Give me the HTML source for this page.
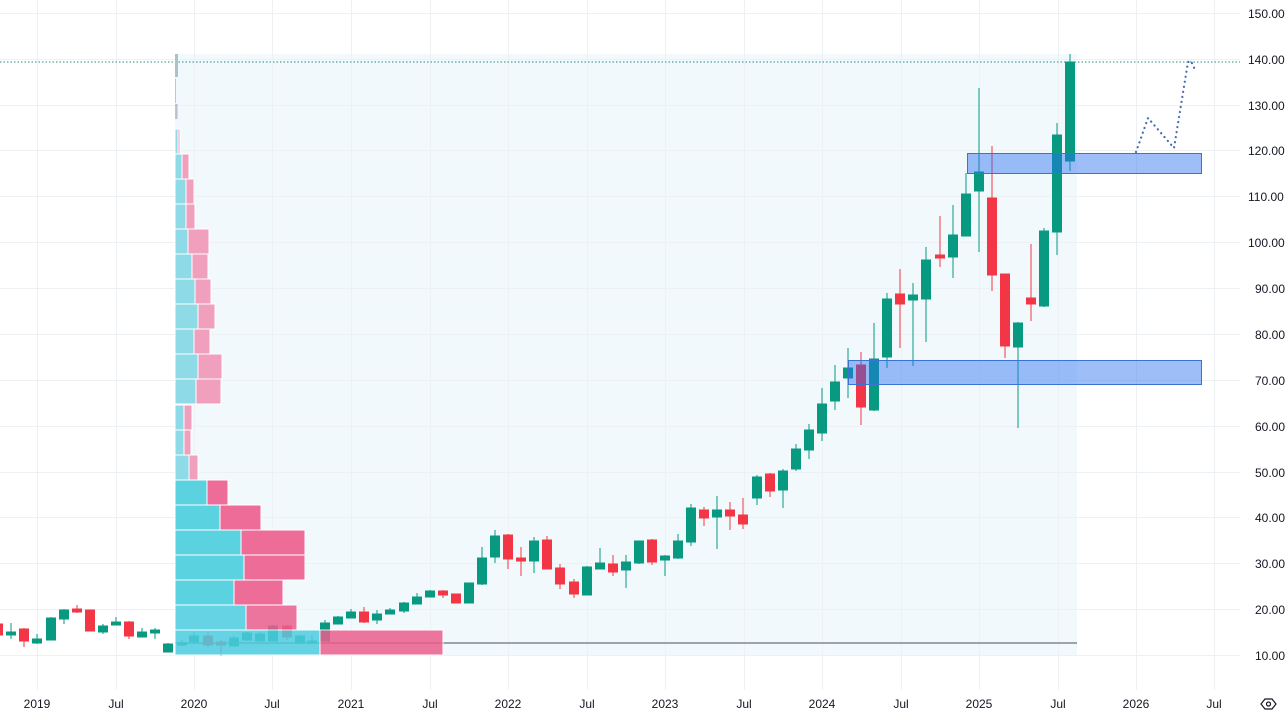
<!DOCTYPE html>
<html><head><meta charset="utf-8"><style>
html,body{margin:0;padding:0;background:#fff;}
svg{display:block;font-family:"Liberation Sans",sans-serif;}
</style></head><body>
<svg width="1288" height="718" viewBox="0 0 1288 718" xmlns="http://www.w3.org/2000/svg">
<rect width="1288" height="718" fill="#fff"/>
<rect x="175" y="54" width="902" height="601" fill="#f1f9fd"/>
<g stroke="#eef1f4" stroke-width="1">
<line x1="0" x2="1240" y1="13.5" y2="13.5"/><line x1="0" x2="1240" y1="59.5" y2="59.5"/><line x1="0" x2="1240" y1="105.5" y2="105.5"/><line x1="0" x2="1240" y1="150.5" y2="150.5"/><line x1="0" x2="1240" y1="196.5" y2="196.5"/><line x1="0" x2="1240" y1="242.5" y2="242.5"/><line x1="0" x2="1240" y1="288.5" y2="288.5"/><line x1="0" x2="1240" y1="334.5" y2="334.5"/><line x1="0" x2="1240" y1="380.5" y2="380.5"/><line x1="0" x2="1240" y1="426.5" y2="426.5"/><line x1="0" x2="1240" y1="472.5" y2="472.5"/><line x1="0" x2="1240" y1="517.5" y2="517.5"/><line x1="0" x2="1240" y1="563.5" y2="563.5"/><line x1="0" x2="1240" y1="609.5" y2="609.5"/><line x1="0" x2="1240" y1="655.5" y2="655.5"/>
<line y1="0" y2="690" x1="37.5" x2="37.5"/><line y1="0" y2="690" x1="116.5" x2="116.5"/><line y1="0" y2="690" x1="194.5" x2="194.5"/><line y1="0" y2="690" x1="272.5" x2="272.5"/><line y1="0" y2="690" x1="351.5" x2="351.5"/><line y1="0" y2="690" x1="430.5" x2="430.5"/><line y1="0" y2="690" x1="508.5" x2="508.5"/><line y1="0" y2="690" x1="587.5" x2="587.5"/><line y1="0" y2="690" x1="665.5" x2="665.5"/><line y1="0" y2="690" x1="744.5" x2="744.5"/><line y1="0" y2="690" x1="822.5" x2="822.5"/><line y1="0" y2="690" x1="901.5" x2="901.5"/><line y1="0" y2="690" x1="979.5" x2="979.5"/><line y1="0" y2="690" x1="1058.5" x2="1058.5"/><line y1="0" y2="690" x1="1136.5" x2="1136.5"/><line y1="0" y2="690" x1="1214.5" x2="1214.5"/>
</g>
<line x1="0" x2="1240" y1="62" y2="62" stroke="#2a8a86" stroke-width="1" stroke-dasharray="1.5,2"/>
<line x1="175" x2="1077" y1="643" y2="643" stroke="#9aa4aa" stroke-width="2"/>
<g id="c">
<g fill="#f23645" stroke="#f23645"><line x1="-2" x2="-2" y1="622" y2="637"/><rect x="-6.5" y="624" width="9" height="11"/></g>
<g fill="#089981" stroke="#089981"><line x1="11" x2="11" y1="623" y2="639"/><rect x="6.5" y="632" width="9" height="3"/></g>
<g fill="#f23645" stroke="#f23645"><line x1="24" x2="24" y1="628" y2="647"/><rect x="19.5" y="629" width="9" height="12"/></g>
<g fill="#089981" stroke="#089981"><line x1="37" x2="37" y1="634" y2="644"/><rect x="32.5" y="639" width="9" height="4"/></g>
<g fill="#089981" stroke="#089981"><line x1="51" x2="51" y1="617" y2="640"/><rect x="46.5" y="618" width="9" height="22"/></g>
<g fill="#089981" stroke="#089981"><line x1="64" x2="64" y1="609" y2="624"/><rect x="59.5" y="610" width="9" height="9"/></g>
<g fill="#f23645" stroke="#f23645"><line x1="77" x2="77" y1="605" y2="613"/><rect x="72.5" y="609" width="9" height="3"/></g>
<g fill="#f23645" stroke="#f23645"><line x1="90" x2="90" y1="610" y2="631"/><rect x="85.5" y="610" width="9" height="21"/></g>
<g fill="#089981" stroke="#089981"><line x1="103" x2="103" y1="624" y2="634"/><rect x="98.5" y="626" width="9" height="6"/></g>
<g fill="#089981" stroke="#089981"><line x1="116" x2="116" y1="617" y2="625"/><rect x="111.5" y="622" width="9" height="3"/></g>
<g fill="#f23645" stroke="#f23645"><line x1="129" x2="129" y1="621" y2="639"/><rect x="124.5" y="622" width="9" height="14"/></g>
<g fill="#089981" stroke="#089981"><line x1="142" x2="142" y1="628" y2="637"/><rect x="137.5" y="632" width="9" height="5"/></g>
<g fill="#089981" stroke="#089981"><line x1="155" x2="155" y1="628" y2="639"/><rect x="150.5" y="630" width="9" height="3"/></g>
<g fill="#089981" stroke="#089981"><line x1="168" x2="168" y1="643" y2="652"/><rect x="163.5" y="644" width="9" height="8"/></g>
<g fill="#089981" stroke="#089981"><line x1="182" x2="182" y1="640" y2="646"/><rect x="177.5" y="643" width="9" height="2"/></g>
<g fill="#089981" stroke="#089981"><line x1="194" x2="194" y1="632" y2="644"/><rect x="189.5" y="636" width="9" height="6"/></g>
<g fill="#f23645" stroke="#f23645"><line x1="208" x2="208" y1="632" y2="647"/><rect x="203.5" y="636" width="9" height="9"/></g>
<g fill="#f23645" stroke="#f23645"><line x1="221" x2="221" y1="640" y2="656"/><rect x="216.5" y="642" width="9" height="3"/></g>
<g fill="#089981" stroke="#089981"><line x1="234" x2="234" y1="636" y2="646"/><rect x="229.5" y="638" width="9" height="8"/></g>
<g fill="#089981" stroke="#089981"><line x1="247" x2="247" y1="632" y2="641"/><rect x="242.5" y="633" width="9" height="7"/></g>
<g fill="#089981" stroke="#089981"><line x1="260" x2="260" y1="632" y2="641"/><rect x="255.5" y="634" width="9" height="7"/></g>
<g fill="#089981" stroke="#089981"><line x1="273" x2="273" y1="625" y2="641"/><rect x="268.5" y="626" width="9" height="15"/></g>
<g fill="#f23645" stroke="#f23645"><line x1="287" x2="287" y1="625" y2="640"/><rect x="282.5" y="626" width="9" height="11"/></g>
<g fill="#089981" stroke="#089981"><line x1="300" x2="300" y1="635" y2="644"/><rect x="295.5" y="636" width="9" height="7"/></g>
<g fill="#089981" stroke="#089981"><line x1="312" x2="312" y1="635" y2="643"/><rect x="307.5" y="641" width="9" height="2"/></g>
<g fill="#089981" stroke="#089981"><line x1="325" x2="325" y1="620" y2="641"/><rect x="320.5" y="623" width="9" height="18"/></g>
<g fill="#089981" stroke="#089981"><line x1="338" x2="338" y1="616" y2="624"/><rect x="333.5" y="617" width="9" height="7"/></g>
<g fill="#089981" stroke="#089981"><line x1="351" x2="351" y1="609" y2="618"/><rect x="346.5" y="612" width="9" height="6"/></g>
<g fill="#f23645" stroke="#f23645"><line x1="364" x2="364" y1="607" y2="623"/><rect x="359.5" y="612" width="9" height="10"/></g>
<g fill="#089981" stroke="#089981"><line x1="377" x2="377" y1="610" y2="624"/><rect x="372.5" y="614" width="9" height="6"/></g>
<g fill="#089981" stroke="#089981"><line x1="390" x2="390" y1="608" y2="614"/><rect x="385.5" y="610" width="9" height="4"/></g>
<g fill="#089981" stroke="#089981"><line x1="404" x2="404" y1="602" y2="613"/><rect x="399.5" y="603" width="9" height="8"/></g>
<g fill="#089981" stroke="#089981"><line x1="417" x2="417" y1="593" y2="604"/><rect x="412.5" y="597" width="9" height="7"/></g>
<g fill="#089981" stroke="#089981"><line x1="430" x2="430" y1="590" y2="597"/><rect x="425.5" y="591" width="9" height="6"/></g>
<g fill="#f23645" stroke="#f23645"><line x1="443" x2="443" y1="590" y2="598"/><rect x="438.5" y="591" width="9" height="4"/></g>
<g fill="#f23645" stroke="#f23645"><line x1="456" x2="456" y1="594" y2="603"/><rect x="451.5" y="594" width="9" height="9"/></g>
<g fill="#089981" stroke="#089981"><line x1="469" x2="469" y1="583" y2="603"/><rect x="464.5" y="583" width="9" height="20"/></g>
<g fill="#089981" stroke="#089981"><line x1="482" x2="482" y1="547" y2="585"/><rect x="477.5" y="558" width="9" height="26"/></g>
<g fill="#089981" stroke="#089981"><line x1="495" x2="495" y1="530" y2="563"/><rect x="490.5" y="536" width="9" height="21"/></g>
<g fill="#f23645" stroke="#f23645"><line x1="508" x2="508" y1="534" y2="569"/><rect x="503.5" y="535" width="9" height="24"/></g>
<g fill="#f23645" stroke="#f23645"><line x1="521" x2="521" y1="547" y2="576"/><rect x="516.5" y="558" width="9" height="3"/></g>
<g fill="#089981" stroke="#089981"><line x1="534" x2="534" y1="537" y2="573"/><rect x="529.5" y="541" width="9" height="20"/></g>
<g fill="#f23645" stroke="#f23645"><line x1="547" x2="547" y1="536" y2="569"/><rect x="542.5" y="540" width="9" height="29"/></g>
<g fill="#f23645" stroke="#f23645"><line x1="560" x2="560" y1="564" y2="589"/><rect x="555.5" y="568" width="9" height="16"/></g>
<g fill="#f23645" stroke="#f23645"><line x1="574" x2="574" y1="579" y2="598"/><rect x="569.5" y="582" width="9" height="12"/></g>
<g fill="#089981" stroke="#089981"><line x1="587" x2="587" y1="566" y2="595"/><rect x="582.5" y="567" width="9" height="28"/></g>
<g fill="#089981" stroke="#089981"><line x1="600" x2="600" y1="548" y2="569"/><rect x="595.5" y="563" width="9" height="6"/></g>
<g fill="#f23645" stroke="#f23645"><line x1="613" x2="613" y1="555" y2="576"/><rect x="608.5" y="564" width="9" height="8"/></g>
<g fill="#089981" stroke="#089981"><line x1="626" x2="626" y1="555" y2="588"/><rect x="621.5" y="562" width="9" height="8"/></g>
<g fill="#089981" stroke="#089981"><line x1="639" x2="639" y1="541" y2="564"/><rect x="634.5" y="541" width="9" height="22"/></g>
<g fill="#f23645" stroke="#f23645"><line x1="652" x2="652" y1="539" y2="565"/><rect x="647.5" y="540" width="9" height="22"/></g>
<g fill="#089981" stroke="#089981"><line x1="665" x2="665" y1="555" y2="576"/><rect x="660.5" y="556" width="9" height="4"/></g>
<g fill="#089981" stroke="#089981"><line x1="678" x2="678" y1="534" y2="559"/><rect x="673.5" y="541" width="9" height="17"/></g>
<g fill="#089981" stroke="#089981"><line x1="691" x2="691" y1="504" y2="546"/><rect x="686.5" y="508" width="9" height="34"/></g>
<g fill="#f23645" stroke="#f23645"><line x1="704" x2="704" y1="507" y2="526"/><rect x="699.5" y="510" width="9" height="8"/></g>
<g fill="#089981" stroke="#089981"><line x1="717" x2="717" y1="496" y2="549"/><rect x="712.5" y="510" width="9" height="7"/></g>
<g fill="#f23645" stroke="#f23645"><line x1="730" x2="730" y1="502" y2="530"/><rect x="725.5" y="510" width="9" height="6"/></g>
<g fill="#f23645" stroke="#f23645"><line x1="743" x2="743" y1="498" y2="529"/><rect x="738.5" y="515" width="9" height="9"/></g>
<g fill="#089981" stroke="#089981"><line x1="757" x2="757" y1="475" y2="505"/><rect x="752.5" y="477" width="9" height="21"/></g>
<g fill="#f23645" stroke="#f23645"><line x1="770" x2="770" y1="473" y2="497"/><rect x="765.5" y="474" width="9" height="17"/></g>
<g fill="#089981" stroke="#089981"><line x1="783" x2="783" y1="469" y2="508"/><rect x="778.5" y="471" width="9" height="19"/></g>
<g fill="#089981" stroke="#089981"><line x1="796" x2="796" y1="444" y2="471"/><rect x="791.5" y="449" width="9" height="20"/></g>
<g fill="#089981" stroke="#089981"><line x1="809" x2="809" y1="424" y2="459"/><rect x="804.5" y="430" width="9" height="20"/></g>
<g fill="#089981" stroke="#089981"><line x1="822" x2="822" y1="388" y2="441"/><rect x="817.5" y="404" width="9" height="29"/></g>
<g fill="#089981" stroke="#089981"><line x1="835" x2="835" y1="365" y2="410"/><rect x="830.5" y="382" width="9" height="19"/></g>
<g fill="#089981" stroke="#089981"><line x1="848" x2="848" y1="348" y2="398"/><rect x="843.5" y="368" width="9" height="10"/></g>
<g fill="#f23645" stroke="#f23645"><line x1="861" x2="861" y1="352" y2="425"/><rect x="856.5" y="365" width="9" height="42"/></g>
<g fill="#089981" stroke="#089981"><line x1="874" x2="874" y1="323" y2="411"/><rect x="869.5" y="359" width="9" height="51"/></g>
<g fill="#089981" stroke="#089981"><line x1="887" x2="887" y1="293" y2="368"/><rect x="882.5" y="299" width="9" height="58"/></g>
<g fill="#f23645" stroke="#f23645"><line x1="900" x2="900" y1="269" y2="348"/><rect x="895.5" y="294" width="9" height="10"/></g>
<g fill="#089981" stroke="#089981"><line x1="913" x2="913" y1="283" y2="366"/><rect x="908.5" y="295" width="9" height="5"/></g>
<g fill="#089981" stroke="#089981"><line x1="926" x2="926" y1="247" y2="342"/><rect x="921.5" y="260" width="9" height="39"/></g>
<g fill="#f23645" stroke="#f23645"><line x1="940" x2="940" y1="216" y2="267"/><rect x="935.5" y="255" width="9" height="3"/></g>
<g fill="#089981" stroke="#089981"><line x1="953" x2="953" y1="205" y2="278"/><rect x="948.5" y="235" width="9" height="22"/></g>
<g fill="#089981" stroke="#089981"><line x1="966" x2="966" y1="173" y2="236"/><rect x="961.5" y="194" width="9" height="42"/></g>
<g fill="#089981" stroke="#089981"><line x1="979" x2="979" y1="88" y2="252"/><rect x="974.5" y="172" width="9" height="19"/></g>
<g fill="#f23645" stroke="#f23645"><line x1="992" x2="992" y1="146" y2="291"/><rect x="987.5" y="198" width="9" height="77"/></g>
<g fill="#f23645" stroke="#f23645"><line x1="1005" x2="1005" y1="274" y2="358"/><rect x="1000.5" y="274" width="9" height="72"/></g>
<g fill="#089981" stroke="#089981"><line x1="1018" x2="1018" y1="322" y2="428"/><rect x="1013.5" y="323" width="9" height="24"/></g>
<g fill="#f23645" stroke="#f23645"><line x1="1031" x2="1031" y1="244" y2="321"/><rect x="1026.5" y="298" width="9" height="6"/></g>
<g fill="#089981" stroke="#089981"><line x1="1044" x2="1044" y1="228" y2="307"/><rect x="1039.5" y="231" width="9" height="75"/></g>
<g fill="#089981" stroke="#089981"><line x1="1057" x2="1057" y1="123" y2="255"/><rect x="1052.5" y="135" width="9" height="97"/></g>
<g fill="#089981" stroke="#089981"><line x1="1070" x2="1070" y1="54" y2="171"/><rect x="1065.5" y="62" width="9" height="99"/></g>
</g>
<g stroke="#fff" stroke-width="1">
<g opacity="0.85">
<rect x="175" y="630" width="145" height="25" fill="#4dcde0"/><rect x="320" y="630" width="123" height="25" fill="#ec5e8e"/>
<rect x="175" y="605" width="71" height="25" fill="#4dcde0"/><rect x="246" y="605" width="51" height="25" fill="#ec5e8e"/>
</g>
<rect x="175" y="580" width="59" height="25" fill="#5bd2e0"/><rect x="234" y="580" width="49" height="25" fill="#ee6d98"/>
<rect x="175" y="555" width="69" height="25" fill="#5bd2e0"/><rect x="244" y="555" width="61" height="25" fill="#ee6d98"/>
<rect x="175" y="530" width="66" height="25" fill="#5bd2e0"/><rect x="241" y="530" width="64" height="25" fill="#ee6d98"/>
<rect x="175" y="505" width="45" height="25" fill="#5bd2e0"/><rect x="220" y="505" width="41" height="25" fill="#ee6d98"/>
<rect x="175" y="480" width="32" height="25" fill="#5bd2e0"/><rect x="207" y="480" width="21" height="25" fill="#ee6d98"/>
<rect x="175" y="455" width="14" height="25" fill="#8edbe7"/><rect x="189" y="455" width="9" height="25" fill="#f09fbd"/>
<rect x="175" y="430" width="9" height="25" fill="#8edbe7"/><rect x="184" y="430" width="7" height="25" fill="#f09fbd"/>
<rect x="175" y="405" width="9" height="25" fill="#8edbe7"/><rect x="184" y="405" width="8" height="25" fill="#f09fbd"/>
<rect x="175" y="379" width="21" height="25" fill="#8edbe7"/><rect x="196" y="379" width="25" height="25" fill="#f09fbd"/>
<rect x="175" y="354" width="23" height="25" fill="#8edbe7"/><rect x="198" y="354" width="24" height="25" fill="#f09fbd"/>
<rect x="175" y="329" width="19" height="25" fill="#8edbe7"/><rect x="194" y="329" width="16" height="25" fill="#f09fbd"/>
<rect x="175" y="304" width="23" height="25" fill="#8edbe7"/><rect x="198" y="304" width="17" height="25" fill="#f09fbd"/>
<rect x="175" y="279" width="20" height="25" fill="#8edbe7"/><rect x="195" y="279" width="16" height="25" fill="#f09fbd"/>
<rect x="175" y="254" width="17" height="25" fill="#8edbe7"/><rect x="192" y="254" width="16" height="25" fill="#f09fbd"/>
<rect x="175" y="229" width="13" height="25" fill="#8edbe7"/><rect x="188" y="229" width="21" height="25" fill="#f09fbd"/>
<rect x="175" y="204" width="11" height="25" fill="#8edbe7"/><rect x="186" y="204" width="9" height="25" fill="#f09fbd"/>
<rect x="175" y="179" width="11" height="25" fill="#8edbe7"/><rect x="186" y="179" width="8" height="25" fill="#f09fbd"/>
<rect x="175" y="154" width="7" height="25" fill="#8edbe7"/><rect x="182" y="154" width="7" height="25" fill="#f09fbd"/>
<rect x="175" y="129" width="3" height="25" fill="#8edbe7"/><rect x="178" y="129" width="2" height="25" fill="#f09fbd"/>
</g>
<rect x="175" y="104" width="1.5" height="15" fill="#8edbe7"/><rect x="176.5" y="104" width="1" height="15" fill="#f09fbd"/>
<rect x="175" y="79" width="1" height="24" fill="#8edbe7"/>
<rect x="175" y="54" width="3" height="23" fill="#a9c3c9"/>
<rect x="967.5" y="153.5" width="234" height="20" fill="rgba(41,110,240,0.45)" stroke="#3a72d6" stroke-width="1"/>
<rect x="848.5" y="360.5" width="353" height="24" fill="rgba(41,110,240,0.45)" stroke="#3a72d6" stroke-width="1"/>
<polyline points="1136,152 1148,118 1174,148 1188,62 1191,61 1196,72" fill="none" stroke="#4a6cae" stroke-width="2.2" stroke-dasharray="0.1,5" stroke-linecap="round"/>
<g font-size="12" fill="#131722">
<text x="1248" y="18">150.00</text><text x="1248" y="64">140.00</text><text x="1248" y="110">130.00</text><text x="1248" y="155">120.00</text><text x="1248" y="201">110.00</text><text x="1248" y="247">100.00</text><text x="1255" y="293">90.00</text><text x="1255" y="339">80.00</text><text x="1255" y="385">70.00</text><text x="1255" y="431">60.00</text><text x="1255" y="477">50.00</text><text x="1255" y="522">40.00</text><text x="1255" y="568">30.00</text><text x="1255" y="614">20.00</text><text x="1255" y="660">10.00</text>
</g>
<g font-size="12" fill="#131722" text-anchor="middle">
<text x="37" y="708">2019</text><text x="116" y="708">Jul</text><text x="194" y="708">2020</text><text x="272" y="708">Jul</text><text x="351" y="708">2021</text><text x="430" y="708">Jul</text><text x="508" y="708">2022</text><text x="587" y="708">Jul</text><text x="665" y="708">2023</text><text x="744" y="708">Jul</text><text x="822" y="708">2024</text><text x="901" y="708">Jul</text><text x="979" y="708">2025</text><text x="1058" y="708">Jul</text><text x="1136" y="708">2026</text><text x="1214" y="708">Jul</text>
</g>
<g fill="none" stroke="#131722" stroke-width="1.2"><path d="M1261,704 L1265,699 L1272,699 L1276,704 L1272,709 L1265,709 Z"/><circle cx="1268.5" cy="704" r="2"/></g>
</svg>
</body></html>
